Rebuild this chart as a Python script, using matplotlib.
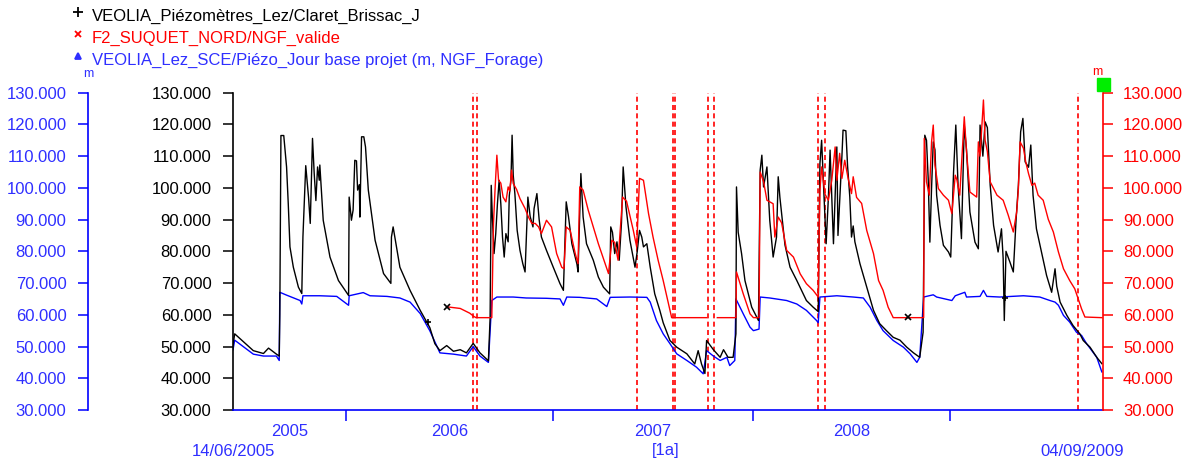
import numpy as np
import matplotlib.pyplot as plt
from matplotlib.patches import Rectangle
from matplotlib.lines import Line2D

plt.rcParams['font.family'] = ['Liberation Sans', 'DejaVu Sans']

# time axis: days since 14/06/2005, levels in m NGF
claret_day = [0, 3, 36, 54, 63, 77, 82, 83, 85, 90,
              95, 98, 101, 107, 116, 122, 124, 129, 134, 137,
              141, 144, 147, 150, 153, 154, 160, 172, 187, 205,
              206, 210, 213, 216, 219, 221, 224, 225, 228, 232,
              235, 240, 252, 267, 280, 281, 284, 296, 314, 332,
              349, 358, 367, 379, 391, 403, 414, 426, 438, 453,
              456, 458, 460, 463, 466, 469, 472, 475, 478, 481,
              484, 488, 490, 493, 495, 497, 500, 504, 509, 514,
              518, 523, 527, 532, 534, 539, 543, 547, 556, 568,
              580, 586, 591, 595, 601, 610, 612, 617, 621, 627,
              639, 648, 657, 668, 670, 673, 677, 681, 685, 689,
              692, 697, 704, 713, 717, 721, 725, 728, 734, 740,
              748, 757, 763, 775, 787, 805, 819, 825, 831, 837,
              840, 852, 864, 870, 878, 887, 892, 893, 896, 902,
              908, 920, 932, 935, 938, 941, 947, 952, 958, 964,
              967, 970, 979, 988, 1000, 1017, 1029, 1038, 1041, 1044,
              1047, 1052, 1056, 1059, 1065, 1071, 1073, 1080, 1082, 1087,
              1090, 1094, 1097, 1100, 1103, 1112, 1124, 1136, 1147, 1159,
              1171, 1183, 1195, 1207, 1218, 1224, 1227, 1230, 1233, 1236,
              1239, 1242, 1245, 1248, 1254, 1260, 1269, 1273, 1278, 1282,
              1286, 1292, 1297, 1301, 1307, 1316, 1322, 1325, 1330, 1334,
              1338, 1343, 1349, 1357, 1363, 1366, 1368, 1371, 1378, 1384,
              1389, 1393, 1397, 1401, 1405, 1411, 1415, 1419, 1425, 1434,
              1443, 1452, 1458, 1461, 1467, 1479, 1490, 1502, 1508, 1520,
              1532, 1541]
claret_val = [50.5, 54, 48.7, 47.8, 49.5, 47.6, 47, 60, 116.5, 116.5,
              106.6, 95, 81.4, 75, 68.7, 66.7, 84.5, 107, 97, 88.8,
              115.6, 104.6, 96, 106.6, 102.4, 107.2, 89.8, 78.2, 70.8, 66.1,
              97.1, 89.8, 93, 108.7, 108.5, 99.3, 101, 90.8, 116.1, 116.1,
              112.9, 99.3, 83.5, 73, 69.9, 84.5, 87.7, 75, 67.7, 61.4,
              56, 50.9, 48.7, 50.3, 48.5, 49, 48, 51, 48, 45.5,
              59, 100.8, 90.8, 79.3, 85.6, 95, 102.4, 95, 84.5, 78.2,
              85.6, 83, 97.5, 102.4, 116.6, 104, 98, 86.6, 80.3, 76.1,
              73.5, 97.1, 91, 87.7, 93.5, 98.2, 90, 84.5, 80.3, 75,
              69.8, 67.7, 95.6, 91, 82.4, 76, 73.5, 104.5, 90.8, 82.4,
              77.2, 71.9, 68.7, 66.6, 87.7, 86, 79.3, 83, 77.2, 89,
              106.6, 94, 83.5, 75, 80, 86.6, 84.5, 81.4, 82.4, 75,
              66.6, 61.4, 57.5, 51.9, 49.8, 47.7, 44.5, 48.7, 44.5, 41.5,
              51.9, 49, 46.6, 49, 46.6, 46.6, 54, 100.3, 86, 79.3,
              70.8, 62.4, 58.2, 105.6, 110.3, 100.3, 106.6, 89.8, 78.2, 84.5,
              103.5, 97, 82, 75, 70.8, 64.5, 62.4, 61, 107.7, 115,
              102.4, 82.4, 97, 111.9, 82.4, 112.9, 85, 110, 118.2, 118,
              107, 97.1, 84.5, 88, 83, 76.1, 68.7, 61.4, 57.2, 55,
              52.9, 52, 49.8, 48, 46.6, 54.5, 116.6, 115, 103, 82.9,
              100, 114.5, 112, 97.7, 88.2, 81.9, 79.8, 78.2, 105, 119.8,
              100.8, 84, 119.8, 112, 92.4, 82.9, 80.8, 119.8, 110, 120.8,
              119, 100.8, 88.2, 79.8, 87.1, 77.7, 58.2, 80, 76.6, 73.5,
              90.3, 100.8, 117.7, 121.9, 108.2, 106.5, 113.5, 97.7, 87.1, 79.8,
              72.4, 67.1, 74.5, 69, 64, 59.8, 56.6, 54, 51.9, 49.8,
              46.6, 44.6]

# isolated point markers seen on the black series
claret_mark_day = [346, 380, 1197, 1369]
claret_mark_val = [57.6, 62.5, 59.3, 65.3]
claret_mark_sym = ['+', 'x', 'x', '+']

suquet_day = [380, 403, 420, 427, 431, 454, 459, 462, 465, 468,
              471, 475, 479, 484, 488, 491, 494, 497, 503, 509,
              518, 524, 530, 536, 542, 547, 556, 565, 574, 583,
              587, 591, 598, 607, 612, 615, 621, 630, 639, 648,
              660, 666, 672, 677, 683, 691, 698, 710, 716, 721,
              728, 737, 745, 754, 763, 775, 778, 840, 850, 859,
              892, 893, 905, 917, 923, 933, 935, 941, 947, 958,
              961, 967, 973, 982, 994, 1006, 1017, 1029, 1038, 1041,
              1044, 1050, 1056, 1062, 1068, 1071, 1076, 1080, 1085, 1091,
              1097, 1100, 1106, 1115, 1124, 1136, 1145, 1153, 1162, 1171,
              1225, 1226, 1230, 1235, 1239, 1242, 1245, 1251, 1260, 1269,
              1275, 1281, 1284, 1289, 1297, 1301, 1307, 1319, 1322, 1325,
              1328, 1331, 1334, 1338, 1343, 1355, 1366, 1375, 1384, 1390,
              1393, 1396, 1402, 1406, 1411, 1417, 1422, 1428, 1437, 1446,
              1455, 1464, 1473, 1484, 1493, 1499, 1505, 1511, 1541]
suquet_val = [62.5, 62, 60.5, 59.5, 59.1, 59.1, 59.1, 88.8, 100.3, 110.3,
              102.4, 101.5, 97.1, 95.6, 100.3, 99, 105.6, 101.4, 99.5, 96.6,
              93.5, 90.8, 88.8, 88.8, 87.7, 85.6, 89.8, 87.7, 79.3, 75,
              74.5, 87.7, 86.6, 79.3, 76.1, 100.3, 99.3, 93, 87.7, 82.4,
              76.1, 73, 83.5, 82.8, 77.2, 97.1, 95.8, 86.6, 81.4, 103,
              102.4, 91.9, 84.5, 77.2, 70.8, 61.4, 59.1, 59.1, np.nan, 59.1,
              59.1, 73.5, 66.6, 60.3, 59.1, 59.1, 105, 102, 96.1, 95,
              84.5, 90.8, 89, 80.3, 78.2, 72.9, 69.8, 67.7, 65.6, 99.3,
              106.6, 98, 96.1, 102.4, 112.9, 102.4, 110.9, 103, 108.7, 103,
              98.2, 103.5, 97, 95.1, 86.6, 79.3, 70.8, 67.7, 62.4, 59.1,
              59.1, 115.6, 101.9, 97.7, 114.5, 119.8, 107.2, 99.8, 97.7, 96.1,
              91.9, 104, 102.5, 97.7, 122.4, 111.4, 98.7, 97.1, 114.5, 110,
              118.7, 127.7, 115, 111.4, 101.9, 97.7, 96.1, 91.4, 86.1, 92.4,
              99.8, 114.5, 112.5, 108.2, 104.5, 100.8, 101.5, 97.7, 96.1, 90.1,
              86.1, 79.8, 74.5, 70.8, 68.2, 65, 61.9, 59.3, 59.1]

sce_day = [0, 3, 36, 54, 77, 82, 83, 95, 119, 122,
           124, 154, 184, 205, 206, 231, 243, 273, 296, 314,
           332, 349, 367, 391, 414, 426, 438, 453, 459, 468,
           497, 520, 556, 580, 586, 592, 615, 645, 663, 669,
           704, 734, 740, 751, 763, 775, 787, 805, 822, 834,
           840, 852, 864, 876, 881, 890, 892, 905, 917, 923,
           933, 935, 952, 982, 1000, 1017, 1035, 1038, 1041, 1071,
           1100, 1118, 1130, 1142, 1153, 1171, 1189, 1201, 1213, 1218,
           1225, 1242, 1248, 1275, 1281, 1298, 1301, 1325, 1331, 1337,
           1360, 1402, 1431, 1449, 1458, 1464, 1473, 1484, 1496, 1505,
           1514, 1532, 1541]
sce_val = [49, 52, 47.6, 47, 47, 45.6, 67.1, 66.2, 64.5, 63.4,
           66, 66, 65.8, 63, 66, 67, 66, 65.8, 65.3, 64,
           60.4, 55, 48, 47.6, 47, 50, 47, 45, 64.5, 65.6,
           65.6, 65.3, 65.2, 65, 63, 65.6, 65.5, 65, 62.6, 65.5,
           65.6, 65.5, 64, 58.2, 54, 50.9, 47.7, 45.6, 43.5, 41.4,
           48.7, 47, 45.6, 46.6, 44, 45.6, 65, 60.3, 56.1, 55,
           55.5, 65.6, 65.3, 64.5, 63.4, 61.4, 58.2, 57.5, 65.6, 66,
           65.6, 65.3, 62.4, 58.2, 55, 51.9, 49.8, 47.7, 45, 46.6,
           65.6, 66.3, 65.6, 64.5, 66, 67.1, 65.6, 65.8, 67.7, 65.8,
           65.6, 66, 65.6, 64.5, 64, 63, 59.8, 57.7, 54.5, 53.5,
           50.9, 46.6, 42]

# red dashed event lines
cut_days = [426, 432, 716, 781, 783.5, 843, 853.6, 1038, 1050, 1499]

# year boundaries as drawn on the x axis
year_ticks = [200, 568, 922, 1272]
year_labels = ['2005', '2006', '2007', '2008']
level_ticks = list(range(30, 131, 10))

BLUE = '#0000ff'
BLUE_TXT = '#2f2fff'
RED = '#ff0000'
W, H = 1187, 463

fig = plt.figure(figsize=(W / 100, H / 100), dpi=100)
ax = fig.add_axes([0.1963, 0.1145, 0.7329, 0.6853])

for d in cut_days:
    ax.axvline(d, color=RED, ls=(0, (3, 2)), lw=1.2, zorder=1)

ax.plot(sce_day, sce_val, color=BLUE, lw=1.0, zorder=2)
ax.plot(claret_day, claret_val, color='black', lw=1.0, zorder=3)
ax.plot(suquet_day, suquet_val, color=RED, lw=1.0, zorder=4)
for d, v, m in zip(claret_mark_day, claret_mark_val, claret_mark_sym):
    ax.plot(d, v, marker=m, ms=5, mew=1.2, color='black', zorder=5)

ax.set_xlim(0, 1543)
ax.set_ylim(30, 130)

# main (black) axis
ax.spines['top'].set_visible(False)
ax.spines['right'].set_visible(False)
ax.spines['left'].set_color('black')
ax.spines['left'].set_linewidth(1.2)
ax.spines['bottom'].set_color(BLUE)
ax.spines['bottom'].set_linewidth(1.2)
ax.set_yticks(level_ticks, [f'{v:.3f}' for v in level_ticks])
ax.tick_params(axis='y', direction='out', length=7.5, width=1.1, pad=8,
               labelsize=12, colors='black')

mids = [(a + b) / 2 for a, b in zip([0] + year_ticks[:-1], year_ticks)]
ax.set_xticks(mids, year_labels)
ax.set_xticks(year_ticks, minor=True)
ax.tick_params(axis='x', which='major', length=0, pad=10, labelsize=12,
               labelcolor=BLUE_TXT)
ax.tick_params(axis='x', which='minor', direction='out', length=8, width=1.1,
               color=BLUE)

# right (red) axis
axr = ax.twinx()
axr.set_ylim(30, 130)
for s in ['top', 'left', 'bottom']:
    axr.spines[s].set_visible(False)
axr.spines['right'].set_color(RED)
axr.spines['right'].set_linewidth(1.2)
axr.set_yticks(level_ticks, [f'{v:.3f}' for v in level_ticks])
axr.tick_params(axis='y', direction='out', length=7.5, width=1.1, pad=7,
                labelsize=12, color=RED, labelcolor=RED)

# far-left (blue) axis, 145 px left of the black one
axb = ax.twinx()
axb.set_ylim(30, 130)
axb.yaxis.tick_left()
for s in ['top', 'right', 'bottom']:
    axb.spines[s].set_visible(False)
axb.spines['left'].set_visible(True)
axb.spines['left'].set_position(('outward', 145 * 72 / 100))
axb.spines['left'].set_color(BLUE)
axb.spines['left'].set_linewidth(1.2)
axb.set_yticks(level_ticks, [f'{v:.3f}' for v in level_ticks])
axb.tick_params(axis='y', direction='out', length=7.5, width=1.1, pad=8,
                labelsize=12, color=BLUE, labelcolor=BLUE_TXT)

# units and marker box
fig.text(88 / W, 1 - 74 / H, 'm', color=BLUE_TXT, fontsize=9,
         ha='center', va='center')
fig.text(1097 / W, 1 - 72 / H, 'm', color=RED, fontsize=9,
         ha='center', va='center')
fig.patches.append(Rectangle((1097 / W, 1 - 91 / H), 13 / W, 13 / H,
                             transform=fig.transFigure, color='#00ee00',
                             zorder=10))

# legend
legend_rows = [
    ('+', 7, 'VEOLIA_Piézomètres_Lez/Claret_Brissac_J', 'black'),
    ('x', 4, 'F2_SUQUET_NORD/NGF_valide', RED),
    ('^', 5, 'VEOLIA_Lez_SCE/Piézo_Jour base projet (m, NGF_Forage)', BLUE_TXT),
]
for i, (mk, ms, label, col) in enumerate(legend_rows):
    yy = 1 - (16 + 22 * i) / H
    fig.lines.append(Line2D([78 / W], [yy + 4 / H], marker=mk, ms=ms,
                            mew=1.3, color=col, transform=fig.transFigure))
    fig.text(92 / W, yy, label, color=col, fontsize=12, va='center')

# date range labels
fig.text(233 / W, 1 - 451 / H, '14/06/2005', color=BLUE_TXT,
         fontsize=12, ha='center', va='center')
fig.text(666 / W, 1 - 451 / H, '[1a]', color=BLUE_TXT,
         fontsize=12, ha='center', va='center')
fig.text(1082 / W, 1 - 451 / H, '04/09/2009', color=BLUE_TXT,
         fontsize=12, ha='center', va='center')

fig.savefig('out.png', dpi=100)
